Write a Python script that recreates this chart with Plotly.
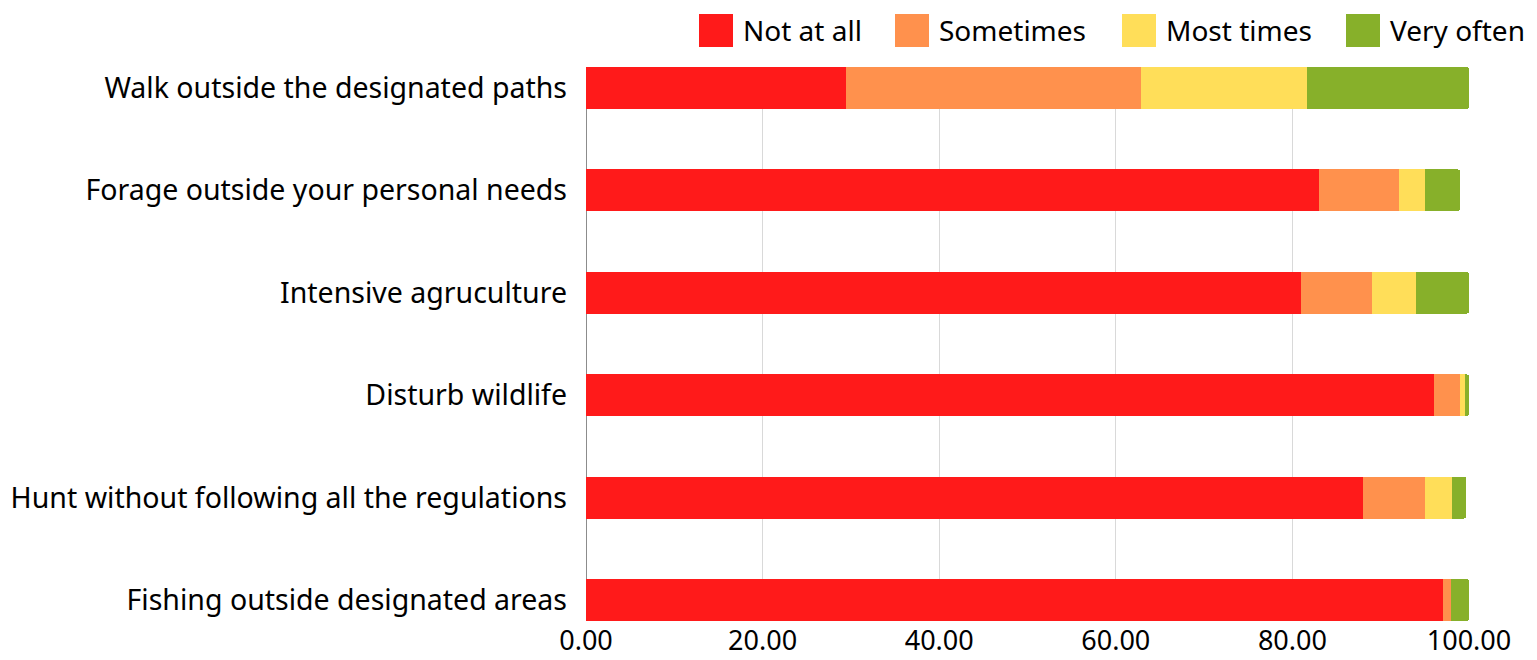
import plotly.graph_objects as go

# Survey statements, listed top to bottom
statements = [
    "Walk outside the designated paths",
    "Forage outside your personal needs",
    "Intensive agruculture",
    "Disturb wildlife",
    "Hunt without following all the regulations",
    "Fishing outside designated areas",
]

# Share of answers (%) per frequency level
not_at_all = [29.4, 83.0, 81.0, 96.0, 88.0, 97.0]
sometimes = [33.5, 9.1, 8.0, 3.0, 7.0, 1.0]
most_times = [18.8, 2.9, 5.0, 0.5, 3.1, 0.0]
very_often = [18.3, 4.0, 6.0, 0.5, 1.6, 2.0]

series_names = ["Not at all", "Sometimes", "Most times", "Very often"]
series_values = [not_at_all, sometimes, most_times, very_often]
series_colors = ["#FF1A1A", "#FF914D", "#FFDE59", "#87B02A"]

x_ticks = [0, 20, 40, 60, 80, 100]

FONT = "Noto Sans"
W, H = 1537, 660
M_L, M_R, M_T, M_B = 586, 68, 67, 39

fig = go.Figure()
for name, vals, color in zip(series_names, series_values, series_colors):
    fig.add_trace(go.Bar(
        y=statements, x=vals, name=name, orientation="h",
        marker=dict(color=color, line=dict(width=0)),
        showlegend=False,
    ))

bar_w = 0.41
n = len(statements)

fig.update_layout(
    width=W, height=H,
    margin=dict(l=M_L, r=M_R, t=M_T, b=M_B, pad=0),
    barmode="stack",
    bargap=1 - bar_w,
    barcornerradius=3,
    plot_bgcolor="white",
    paper_bgcolor="white",
    font=dict(family=FONT, color="black"),
    xaxis=dict(
        range=[0, 100], tickvals=x_ticks, tickformat=".2f",
        showgrid=True, gridcolor="#D9D9D9", gridwidth=1,
        zeroline=True, zerolinecolor="#8C8C8C", zerolinewidth=1,
        showline=False, ticks="", automargin=False,
        tickfont=dict(size=27, family=FONT), ticklabelstandoff=1,
    ),
    yaxis=dict(
        range=[n - 1 + bar_w / 2, -bar_w / 2],
        showgrid=False, zeroline=False, showline=False, ticks="",
        automargin=False,
        tickfont=dict(size=28.5, family=FONT), ticklabelstandoff=18,
    ),
)

# Legend drawn as square swatches with labels along the top edge
legend_px = [699, 895, 1122, 1346]
sw = 34
plot_w = W - M_L - M_R
plot_h = H - M_T - M_B
for name, color, px in zip(series_names, series_colors, legend_px):
    fig.add_shape(type="rect", xref="paper", yref="paper",
                  x0=(px - M_L) / plot_w, x1=(px + sw - M_L) / plot_w,
                  y0=1 + (M_T - 47) / plot_h, y1=1 + (M_T - 14) / plot_h,
                  fillcolor=color, line=dict(width=0))
    fig.add_annotation(xref="paper", yref="paper",
                       x=(px + sw + 8 - M_L) / plot_w,
                       y=1 + (M_T - 30) / plot_h,
                       text=name, showarrow=False, xanchor="left", yanchor="middle",
                       font=dict(size=28, family=FONT, color="black"))

fig.write_html("out.html")
